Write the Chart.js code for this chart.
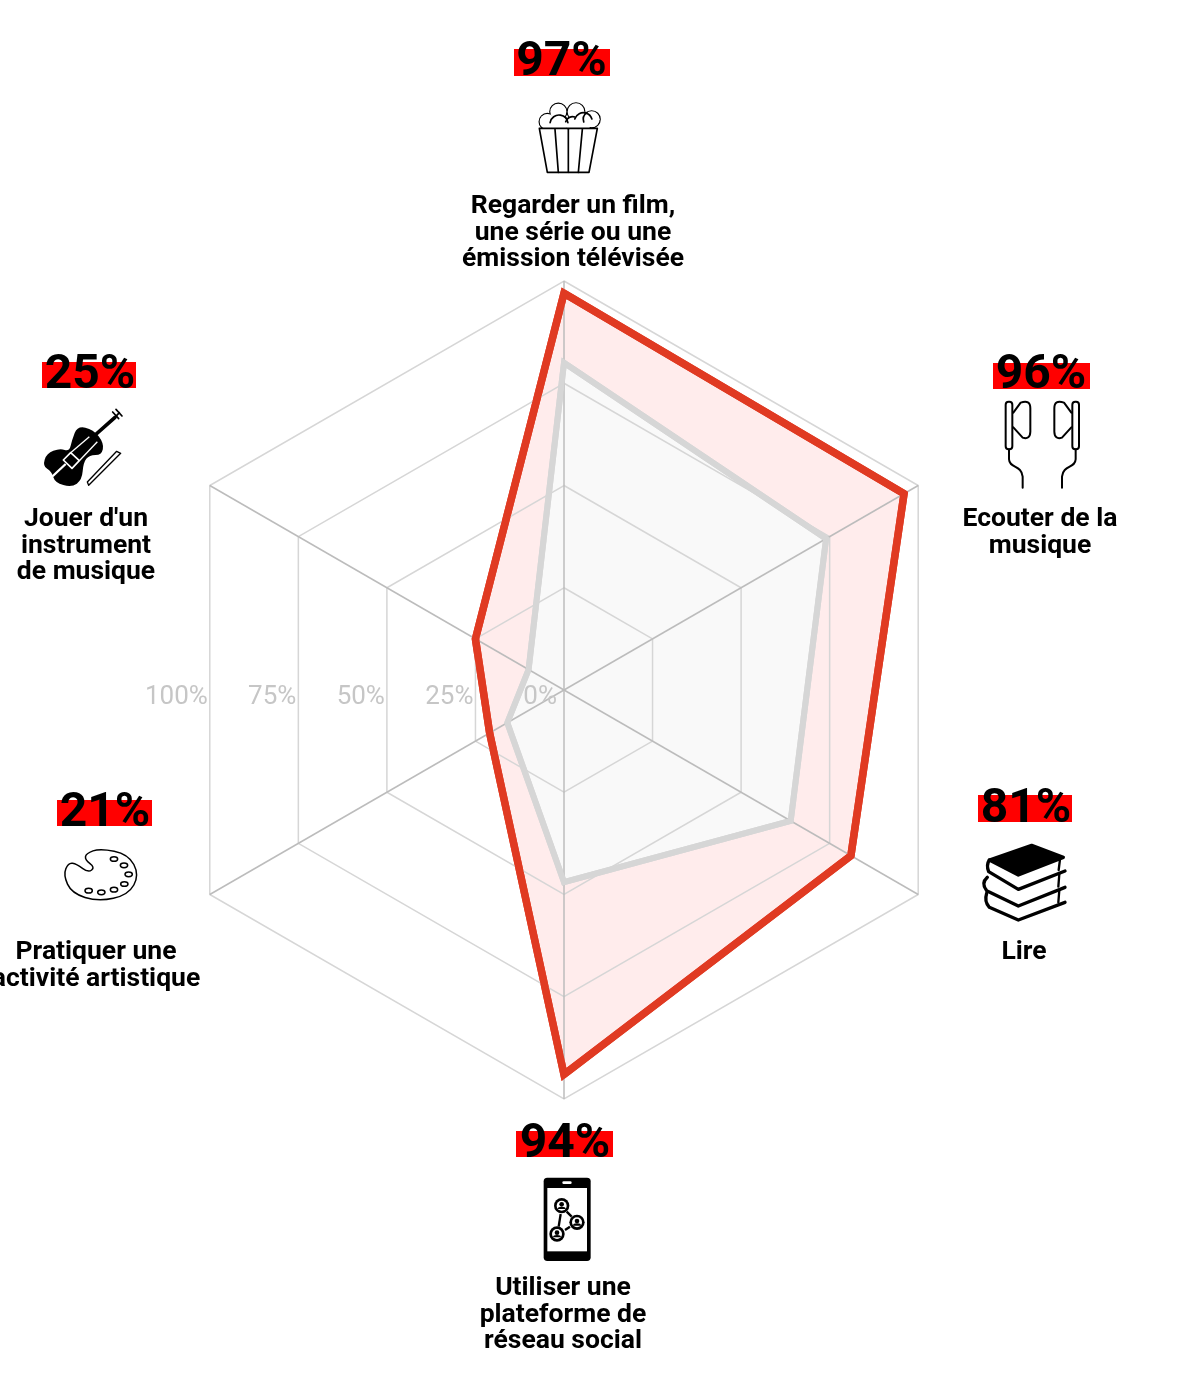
<!DOCTYPE html>
<html lang="fr">
<head>
<meta charset="utf-8">
<title>Pratiques culturelles</title>
<script src="https://cdn.jsdelivr.net/npm/chart.js@4"></script>
<style>
  html, body { margin: 0; padding: 0; background: #fff; }
  canvas { display: block; }
</style>
</head>
<body>
<canvas id="c_chart" width="1177" height="1374"></canvas>
<script>
const categories = [
  ["Regarder un film,", "une série ou une", "émission télévisée"],
  ["Ecouter de la", "musique"],
  ["Lire"],
  ["Utiliser une", "plateforme de", "réseau social"],
  ["Pratiquer une", "activité artistique"],
  ["Jouer d'un", "instrument", "de musique"]
];
const redValues = [97, 96, 81, 94, 21, 25];
const greyValues = [80, 74, 64, 47, 16, 10];
const tickValues = [100, 75, 50, 25, 0];

// where each category block sits: label centre + first baseline, value centre + baseline, red band
const labelSpots = [
  { x: 573, y: 213 }, { x: 1040, y: 526 }, { x: 1024, y: 959 },
  { x: 563, y: 1295 }, { x: 96, y: 959 }, { x: 86, y: 526 }
];
const valueSpots = [
  { x: 561.5, y: 75 }, { x: 1041, y: 388 }, { x: 1026, y: 822 },
  { x: 565, y: 1157 }, { x: 105, y: 826 }, { x: 90, y: 388 }
];
const bands = [
  [514, 49, 96, 27], [993, 363, 97, 26], [978, 795, 94, 27],
  [516, 1131, 97, 26], [57, 800, 95, 26], [42, 362, 94, 26]
];

// icons are sketched on a 3x grid, ox/oy is the top left of that grid
function onGrid(ctx, ox, oy, paint) {
  ctx.save();
  ctx.translate(ox, oy);
  ctx.scale(1 / 3, 1 / 3);
  ctx.strokeStyle = "#000";
  ctx.fillStyle = "#000";
  ctx.lineJoin = "round";
  ctx.lineCap = "round";
  paint();
  ctx.restore();
}

function smoothLoop(ctx, pts) {
  ctx.beginPath();
  let last = pts[pts.length - 1];
  ctx.moveTo((last[0] + pts[0][0]) / 2, (last[1] + pts[0][1]) / 2);
  for (let i = 0; i < pts.length; i++) {
    let next = pts[(i + 1) % pts.length];
    ctx.quadraticCurveTo(pts[i][0], pts[i][1], (pts[i][0] + next[0]) / 2, (pts[i][1] + next[1]) / 2);
  }
  ctx.closePath();
}

function polyline(ctx, pts) {
  ctx.beginPath();
  pts.forEach((p, i) => i ? ctx.lineTo(p[0], p[1]) : ctx.moveTo(p[0], p[1]));
}

function strokeSegments(ctx, segments) {
  segments.forEach(s => {
    polyline(ctx, [[s[0], s[1]], [s[2], s[3]]]);
    ctx.stroke();
  });
}

function drawPopcorn(ctx) {
  onGrid(ctx, 440, 20, () => {
    ctx.lineWidth = 5;
    let kernels = [[322, 305, 24], [355, 275, 25], [408, 275, 26], [455, 298, 25], [430, 305, 27], [357, 312, 27], [398, 312, 22]];
    // outer edge of the cloud first, then wipe the inside of it
    kernels.forEach(k => {
      ctx.beginPath();
      ctx.arc(k[0], k[1], k[2], 0, Math.PI * 2);
      ctx.stroke();
    });
    ctx.fillStyle = "#fff";
    kernels.forEach(k => {
      ctx.beginPath();
      ctx.arc(k[0], k[1], k[2] - 1, 0, Math.PI * 2);
      ctx.fill();
    });
    // a few inner kernel edges
    ctx.beginPath();
    ctx.arc(357, 312, 27, Math.PI * 1.05, Math.PI * 1.95);
    ctx.stroke();
    ctx.beginPath();
    ctx.arc(430, 305, 27, Math.PI * 1.1, Math.PI * 1.9);
    ctx.stroke();
    ctx.beginPath();
    ctx.arc(398, 312, 22, Math.PI * 1.1, Math.PI * 1.6);
    ctx.stroke();
    ctx.beginPath();
    ctx.arc(455, 298, 25, Math.PI * 0.9, Math.PI * 1.3);
    ctx.stroke();

    polyline(ctx, [[298, 325], [472, 325], [447, 457], [322, 457]]);
    ctx.closePath();
    ctx.fill();
    ctx.stroke();
    strokeSegments(ctx, [[345, 328, 355, 457], [385, 328, 385, 457], [427, 328, 415, 457]]);
  });
}

function drawEarphone(ctx) {
  ctx.lineWidth = 6;
  ctx.beginPath();
  ctx.roundRect(167, 185, 20, 143, 9);
  ctx.stroke();
  ctx.beginPath();
  ctx.moveTo(190, 218);
  ctx.lineTo(212, 188);
  ctx.quadraticCurveTo(241, 178, 241, 205);
  ctx.lineTo(241, 275);
  ctx.quadraticCurveTo(240, 300, 218, 293);
  ctx.lineTo(190, 262);
  ctx.stroke();
  ctx.beginPath();
  ctx.moveTo(177, 328);
  ctx.lineTo(177, 358);
  ctx.bezierCurveTo(178, 385, 215, 375, 218, 410);
  ctx.lineTo(218, 443);
  ctx.stroke();
}

function drawEarphones(ctx) {
  onGrid(ctx, 950, 340, () => {
    drawEarphone(ctx);
    ctx.translate(554, 0);
    ctx.scale(-1, 1);
    drawEarphone(ctx);
  });
}

function drawBooks(ctx) {
  onGrid(ctx, 960, 770, () => {
    ctx.lineWidth = 10;
    polyline(ctx, [[88, 270], [215, 226], [310, 262], [175, 315]]);
    ctx.closePath();
    ctx.fill();
    ctx.stroke();
    ctx.beginPath();
    ctx.moveTo(88, 270);
    ctx.quadraticCurveTo(78, 285, 86, 305);
    ctx.lineTo(175, 358);
    ctx.lineTo(315, 303);
    ctx.stroke();
    ctx.beginPath();
    ctx.moveTo(82, 322);
    ctx.quadraticCurveTo(62, 340, 80, 362);
    ctx.lineTo(175, 408);
    ctx.lineTo(315, 352);
    ctx.stroke();
    ctx.beginPath();
    ctx.moveTo(80, 370);
    ctx.quadraticCurveTo(72, 395, 88, 412);
    ctx.lineTo(175, 450);
    ctx.lineTo(315, 397);
    ctx.stroke();
    ctx.lineWidth = 7;
    strokeSegments(ctx, [[300, 268, 296, 300], [298, 312, 295, 350], [298, 360, 295, 397]]);
  });
}

function drawPerson(ctx, x, y) {
  ctx.fillStyle = "#000";
  ctx.beginPath();
  ctx.arc(x, y, 23, 0, Math.PI * 2);
  ctx.fill();
  ctx.fillStyle = "#fff";
  ctx.beginPath();
  ctx.arc(x, y, 15, 0, Math.PI * 2);
  ctx.fill();
  ctx.fillStyle = "#000";
  ctx.beginPath();
  ctx.arc(x, y - 4, 7, 0, Math.PI * 2);
  ctx.fill();
  ctx.beginPath();
  ctx.ellipse(x, y + 10, 12, 7, 0, Math.PI, 0);
  ctx.fill();
}

function drawPhone(ctx) {
  onGrid(ctx, 470, 1110, () => {
    ctx.beginPath();
    ctx.roundRect(221, 203, 141, 250, 11);
    ctx.fill();
    ctx.fillStyle = "#fff";
    ctx.fillRect(232, 234, 119, 190);
    ctx.beginPath();
    ctx.roundRect(277, 214, 28, 8, 4);
    ctx.fill();
    ctx.lineWidth = 7;
    ctx.lineCap = "butt";
    strokeSegments(ctx, [[272, 312, 266, 350], [290, 305, 305, 320], [285, 360, 300, 350]]);
    drawPerson(ctx, 275, 287);
    drawPerson(ctx, 321, 337);
    drawPerson(ctx, 261, 372);
  });
}

function drawPalette(ctx) {
  onGrid(ctx, 0, 780, () => {
    ctx.lineWidth = 4.5;
    smoothLoop(ctx, [[258, 220], [300, 205], [385, 222], [418, 285], [385, 345], [295, 365], [215, 340], [190, 285], [205, 248], [230, 252], [265, 278], [285, 262], [255, 240]]);
    ctx.stroke();
    [[342, 237], [372, 256], [386, 283], [373, 312], [342, 329], [304, 337], [266, 332]].forEach(w => {
      ctx.beginPath();
      ctx.ellipse(w[0], w[1], 11, 7, 0, 0, Math.PI * 2);
      ctx.stroke();
    });
  });
}

function drawViolin(ctx) {
  onGrid(ctx, 0, 340, () => {
    smoothLoop(ctx, [[216, 300], [232, 258], [280, 268], [312, 310], [305, 345], [268, 345], [250, 368], [246, 420], [215, 442], [165, 428], [155, 395], [128, 378], [140, 340], [180, 325], [208, 335]]);
    ctx.fill();
    // neck and pegs
    ctx.lineWidth = 11;
    polyline(ctx, [[255, 312], [345, 232]]);
    ctx.stroke();
    ctx.lineWidth = 5;
    polyline(ctx, [[345, 232], [358, 218]]);
    ctx.stroke();
    strokeSegments(ctx, [[338, 216, 356, 236], [348, 208, 366, 228]]);
    // white tail, bridge box and the two strings
    ctx.strokeStyle = "#fff";
    ctx.lineWidth = 7;
    ctx.lineCap = "butt";
    polyline(ctx, [[152, 414], [197, 372]]);
    ctx.stroke();
    ctx.lineWidth = 5;
    polyline(ctx, [[190, 360], [212, 338], [238, 362], [216, 385]]);
    ctx.closePath();
    ctx.stroke();
    ctx.lineWidth = 4;
    strokeSegments(ctx, [[212, 338, 268, 290], [238, 362, 292, 305]]);
    // bow
    ctx.strokeStyle = "#000";
    ctx.lineWidth = 4;
    ctx.lineCap = "round";
    polyline(ctx, [[262, 426], [350, 334], [362, 340], [266, 436]]);
    ctx.closePath();
    ctx.stroke();
  });
}

const radarBlocks = {
  id: "radarBlocks",
  afterDraw(chart) {
    let ctx = chart.ctx;
    let scale = chart.scales.r;

    // the outlines go back on top of the grid, fills stay underneath it
    ctx.save();
    chart.data.datasets.forEach((set, i) => {
      chart.getDatasetMeta(i).dataset.draw(ctx, chart.chartArea);
    });
    ctx.restore();

    // percentage ticks sit on the left of the vertical ring segments
    ctx.save();
    ctx.font = "400 26px Roboto";
    ctx.fillStyle = "#c6c6c6";
    ctx.textAlign = "right";
    ctx.textBaseline = "alphabetic";
    tickValues.forEach(v => {
      let p = scale.getPointPosition(4, scale.getDistanceFromCenterForValue(v));
      ctx.fillText(v + "%", v ? p.x - 2 : p.x - 7, 704);
    });
    ctx.restore();

    categories.forEach((lines, i) => {
      ctx.fillStyle = "#ff0000";
      ctx.fillRect(bands[i][0], bands[i][1], bands[i][2], bands[i][3]);

      ctx.fillStyle = "#000";
      ctx.textAlign = "center";
      ctx.textBaseline = "alphabetic";
      ctx.font = "700 48px Roboto";
      ctx.fillText(redValues[i] + "%", valueSpots[i].x, valueSpots[i].y);

      ctx.font = "700 26.5px Roboto";
      lines.forEach((line, n) => {
        ctx.fillText(line, labelSpots[i].x, labelSpots[i].y + n * 26.5);
      });
    });

    drawPopcorn(ctx);
    drawEarphones(ctx);
    drawBooks(ctx);
    drawPhone(ctx);
    drawPalette(ctx);
    drawViolin(ctx);
  }
};

new Chart(document.getElementById("c_chart"), {
  type: "radar",
  data: {
    labels: categories.map(lines => lines.join(" ")),
    datasets: [
      {
        data: redValues,
        order: 2,
        borderColor: "#e03a22",
        borderWidth: 7.5,
        backgroundColor: "#ffecec",
        borderJoinStyle: "miter",
        fill: true,
        pointRadius: 0,
        tension: 0
      },
      {
        data: greyValues,
        order: 1,
        borderColor: "#d6d6d6",
        borderWidth: 6,
        backgroundColor: "#f9f9f9",
        borderJoinStyle: "miter",
        fill: true,
        pointRadius: 0,
        tension: 0
      }
    ]
  },
  options: {
    responsive: false,
    animation: false,
    layout: { padding: { left: 155, right: 204, top: 281, bottom: 275 } },
    plugins: { legend: { display: false }, tooltip: { enabled: false } },
    scales: {
      r: {
        min: 0,
        max: 100,
        ticks: { stepSize: 25, display: false },
        pointLabels: { display: false },
        // z above the datasets so the lines stay visible through the fills
        grid: { color: "#d6d6d6", lineWidth: 1.5, z: 1 },
        angleLines: { color: "#bcbcbc", lineWidth: 1.5 }
      }
    }
  },
  plugins: [radarBlocks]
});
</script>
</body>
</html>
